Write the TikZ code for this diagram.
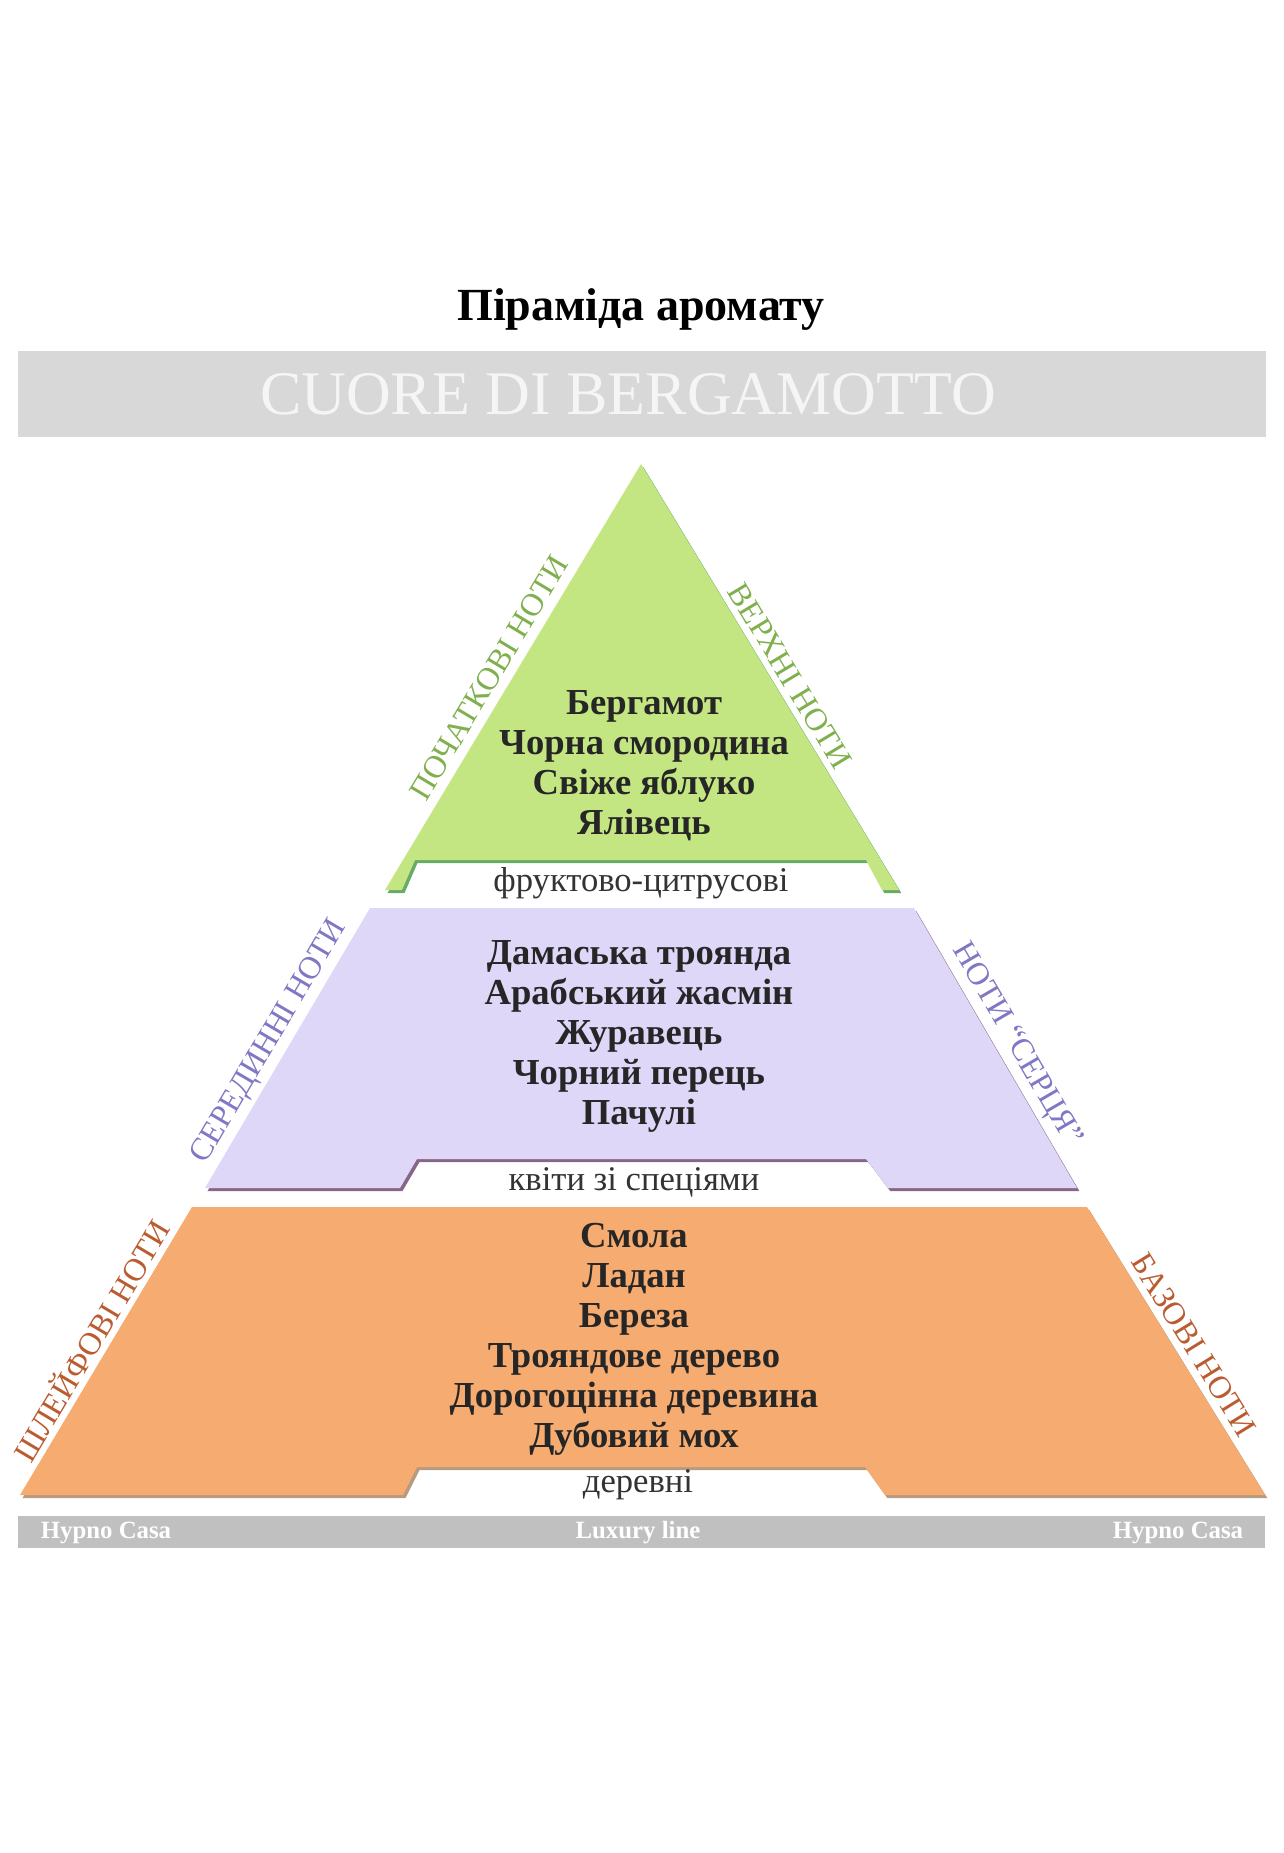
\documentclass[tikz,border=0pt]{standalone}
\usepackage{fontspec}
\setmainfont{Liberation Serif}
\usepackage{tikz}
\usetikzlibrary{shadows}
\definecolor{topgreen}{RGB}{196,230,130}
\definecolor{midlilac}{RGB}{222,215,248}
\definecolor{baseorange}{RGB}{246,171,112}
\definecolor{greenlbl}{RGB}{128,176,78}
\definecolor{lilaclbl}{RGB}{128,120,196}
\definecolor{orangelbl}{RGB}{186,92,48}
\definecolor{bannergray}{RGB}{216,216,216}
\definecolor{footgray}{RGB}{192,192,192}

\begin{document}
\begin{tikzpicture}[x=0.5pt,y=-0.5pt,
notes/.style={align=center,text=black!85,
font=\bfseries\fontsize{18.3}{20}\selectfont},
family/.style={text=black!80,font=\fontsize{17.3}{19}\selectfont},
sidelabel/.style={font=\fontsize{16}{18}\selectfont},
foot/.style={text=white,font=\bfseries\fontsize{12.4}{14}\selectfont},
tier/.style={drop shadow={shadow xshift=1.2pt,shadow yshift=-1.6pt,
opacity=0.6,fill=#1}}]
\fill[white] (0,0) rectangle (1284,1853);
\useasboundingbox (0,0) rectangle (1284,1853);

% title and banner
\node[font=\bfseries\fontsize{23}{26}\selectfont] (title) at (641,309)
{Піраміда аромату};
\fill[bannergray] (18,351) rectangle (1266,437);
\node[text=white!96!black,font=\fontsize{31}{34}\selectfont] (perfume)
at (628,394) {CUORE DI BERGAMOTTO};

% tiers
\fill[topgreen,tier=green!45!black] (641,464) -- (899,890) -- (882,890)
-- (866,860) -- (415,860) -- (402,890) -- (385,890) -- cycle;
\fill[midlilac,tier=violet!45!black] (370,908) -- (914,908) -- (1077,1188)
-- (888,1188) -- (866,1159) -- (417,1159) -- (400,1188) -- (205,1188) -- cycle;
\fill[baseorange,tier=brown!70!black] (192,1207) -- (1087,1207) -- (1265,1495)
-- (885,1495) -- (865,1467) -- (417,1467) -- (403,1495) -- (20,1495) -- cycle;

% notes
\node[notes] (topnotes) at (644,766)
{Бергамот\\Чорна смородина\\Свіже яблуко\\Ялівець};
\node[notes] (heartnotes) at (639,1036)
{Дамаська троянда\\Арабський жасмін\\Журавець\\Чорний перець\\Пачулі};
\node[notes] (basenotes) at (634,1339)
{Смола\\Ладан\\Береза\\Трояндове дерево\\Дорогоцінна деревина\\Дубовий мох};

\node[family] (topfam) at (641,883) {фруктово-цитрусові};
\node[family] (heartfam) at (634,1182) {квіти зі спеціями};
\node[family] (basefam) at (638,1485) {деревні};

% side labels
\node[sidelabel,text=greenlbl,rotate=59] (topleft) at (489,678)
{ПОЧАТКОВІ НОТИ};
\node[sidelabel,text=greenlbl,rotate=-59] (topright) at (790,676)
{ВЕРХНІ НОТИ};
\node[sidelabel,text=lilaclbl,rotate=59.5] (heartleft) at (270,1042)
{СЕРЕДИННІ НОТИ};
\node[sidelabel,text=lilaclbl,rotate=-59.8] (heartright) at (1016,1045)
{НОТИ “СЕРЦЯ”};
\node[sidelabel,text=orangelbl,rotate=59.2] (baseleft) at (90,1340)
{ШЛЕЙФОВІ НОТИ};
\node[sidelabel,text=orangelbl,rotate=-58.3] (baseright) at (1194,1345)
{БАЗОВІ НОТИ};

% footer
\fill[footgray] (18,1516) rectangle (1265,1548);
\node[foot] (brandl) at (106,1533) {Hypno Casa};
\node[foot] (line) at (638,1533) {Luxury line};
\node[foot] (brandr) at (1178,1533) {Hypno Casa};
\end{tikzpicture}
\end{document}
